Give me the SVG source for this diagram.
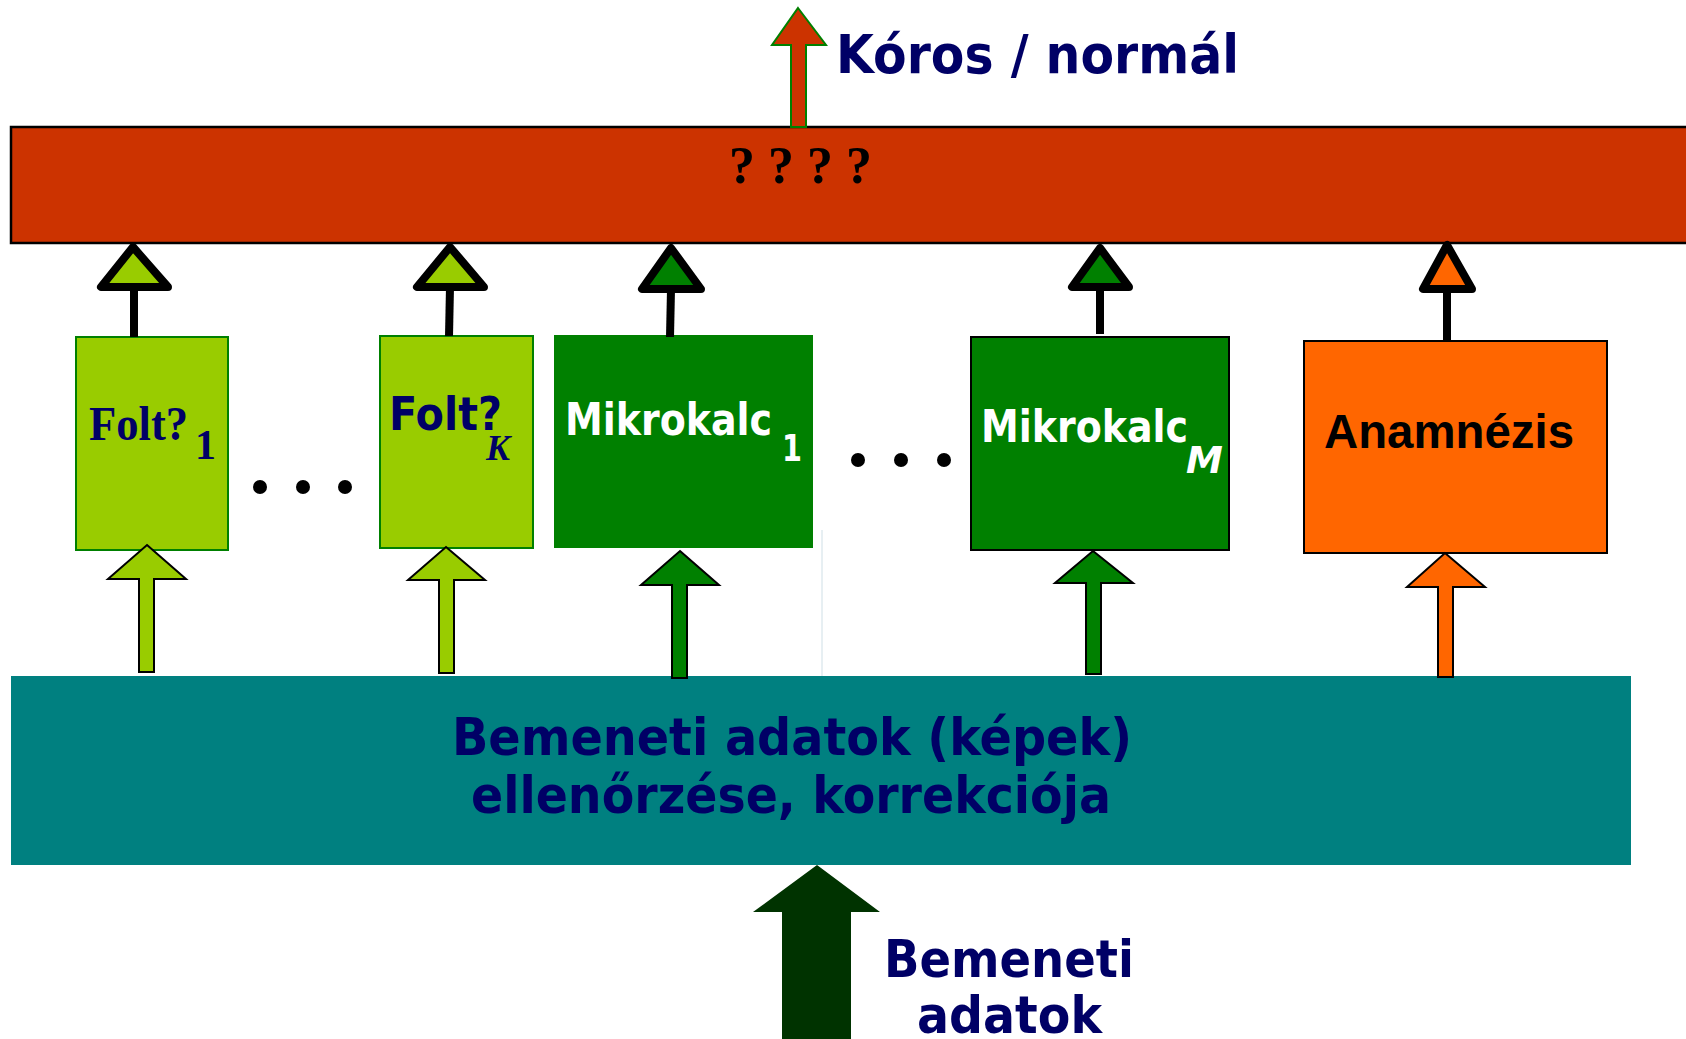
<svg xmlns="http://www.w3.org/2000/svg" width="1686" height="1039" viewBox="0 0 1686 1039">
<style>
.sans{font-family:"DejaVu Sans",Verdana,sans-serif;font-weight:bold}
.serif{font-family:"Liberation Serif","Times New Roman",serif;font-weight:bold}
.arial{font-family:"Liberation Sans",Arial,sans-serif;font-weight:bold}
.navy{fill:#000066}
.outhead{stroke:#000;stroke-width:8;stroke-linejoin:round}
.outshaft{stroke:#000;stroke-width:8;fill:none}
.block{stroke:#000;stroke-width:2;stroke-linejoin:miter}
.dot{fill:#000}
</style>
<rect width="1686" height="1039" fill="#fff"/>

<g id="decision">
<rect x="11" y="127" width="1690" height="116" fill="#CC3300" stroke="#000" stroke-width="2.5"/>
<text class="serif" x="729" y="183" font-size="52" fill="#000">? ? ? ?</text>
</g>

<g id="output-label">
<text class="sans navy" x="836" y="73" font-size="54" textLength="403" lengthAdjust="spacingAndGlyphs">Kóros / normál</text>
</g>

<g id="folt1">
<rect x="76" y="337" width="152" height="213" fill="#99CC00" stroke="#008000" stroke-width="2"/>
<text class="serif navy" x="89" y="440" font-size="48" textLength="99" lengthAdjust="spacingAndGlyphs">Folt?</text>
<text class="serif navy" x="195" y="459" font-size="42">1</text>
</g>

<g id="foltK">
<rect x="380" y="336" width="153" height="212" fill="#99CC00" stroke="#008000" stroke-width="2"/>
<text class="sans navy" x="389" y="430" font-size="46" textLength="113" lengthAdjust="spacingAndGlyphs">Folt?</text>
<text class="serif navy" x="486" y="460" font-size="36" font-style="italic">K</text>
</g>

<g id="mikrokalc1">
<rect x="554" y="335" width="259" height="213" fill="#008000"/>
<text class="sans" x="565" y="435" font-size="44" fill="#fff" textLength="207" lengthAdjust="spacingAndGlyphs">Mikrokalc</text>
<text class="sans" x="782" y="461" font-size="38" fill="#fff" textLength="20" lengthAdjust="spacingAndGlyphs">1</text>
</g>

<g id="mikrokalcM">
<rect x="971" y="337" width="258" height="213" fill="#008000" stroke="#000" stroke-width="2"/>
<text class="sans" x="981" y="442" font-size="44" fill="#fff" textLength="207" lengthAdjust="spacingAndGlyphs">Mikrokalc</text>
<text class="sans" x="1186" y="473" font-size="37" fill="#fff" font-style="italic">M</text>
</g>

<g id="anamnezis">
<rect x="1304" y="341" width="303" height="212" fill="#FF6600" stroke="#000" stroke-width="2"/>
<text class="arial" x="1324" y="448" font-size="48" fill="#000" textLength="250" lengthAdjust="spacingAndGlyphs">Anamnézis</text>
</g>

<g id="preprocessing">
<rect x="11" y="676" width="1620" height="189" fill="#008080"/>
<text class="sans navy" x="452" y="755" font-size="52" textLength="680" lengthAdjust="spacingAndGlyphs">Bemeneti adatok (képek)</text>
<text class="sans navy" x="471" y="813" font-size="52" textLength="640" lengthAdjust="spacingAndGlyphs">ellenőrzése, korrekciója</text>
</g>

<g id="input-label">
<text class="sans navy" x="884" y="977" font-size="52" textLength="250" lengthAdjust="spacingAndGlyphs">Bemeneti</text>
<text class="sans navy" x="917" y="1033" font-size="52" textLength="185" lengthAdjust="spacingAndGlyphs">adatok</text>
</g>

<g id="ellipses">
<circle class="dot" cx="260" cy="487" r="7"/>
<circle class="dot" cx="303" cy="487" r="7"/>
<circle class="dot" cx="345" cy="487" r="7"/>
<circle class="dot" cx="858" cy="460" r="7"/>
<circle class="dot" cx="901" cy="460" r="7"/>
<circle class="dot" cx="944" cy="460" r="7"/>
</g>

<g id="connectors">
<line x1="822" y1="530" x2="822" y2="676" stroke="#cfdfe6" stroke-width="1"/>
<!-- output arrow -->
<polygon points="798,8 826,45 806,45 806,127 791,127 791,45 772,45" fill="#CC3300" stroke="#008000" stroke-width="2"/>
<!-- outputs to decision bar -->
<line class="outshaft" x1="134" y1="337" x2="134" y2="287"/>
<polygon class="outhead" points="133,247 101,287 168,287" fill="#99CC00"/>
<line class="outshaft" x1="449" y1="336" x2="450" y2="287"/>
<polygon class="outhead" points="450,247 417,287 484,287" fill="#99CC00"/>
<line class="outshaft" x1="670" y1="337" x2="671" y2="289"/>
<polygon class="outhead" points="671,248 642,289 701,289" fill="#008000"/>
<line class="outshaft" x1="1100" y1="334" x2="1100" y2="287"/>
<polygon class="outhead" points="1100,248 1072,287 1129,287" fill="#008000"/>
<line class="outshaft" x1="1447" y1="341" x2="1447" y2="289"/>
<polygon class="outhead" points="1447,245 1423,289 1472,289" fill="#FF6600"/>
<!-- inputs from preprocessing -->
<polygon class="block" points="147,545 186,579 154,579 154,672 139,672 139,579 108,579" fill="#99CC00"/>
<polygon class="block" points="446,547 485,580 454,580 454,673 439,673 439,580 408,580" fill="#99CC00"/>
<polygon class="block" points="680,551 719,585 687,585 687,678 672,678 672,585 641,585" fill="#008000"/>
<polygon class="block" points="1093,551 1133,583 1101,583 1101,674 1086,674 1086,583 1055,583" fill="#008000"/>
<polygon class="block" points="1445,553 1485,587 1453,587 1453,677 1438,677 1438,587 1407,587" fill="#FF6600"/>
<!-- input arrow -->
<polygon points="817,865 880,912 851,912 851,1039 782,1039 782,912 753,912" fill="#003300"/>
</g>
</svg>
